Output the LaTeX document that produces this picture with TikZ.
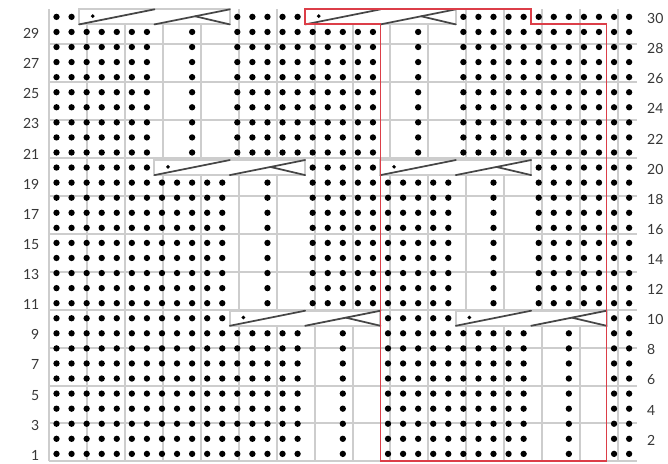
\documentclass[tikz,border=0pt]{standalone}
\usepackage{fontspec}
\newfontfamily\chartfont{Lato}
\usepackage{tikz}
\usetikzlibrary{calc,positioning}
\definecolor{repeatred}{RGB}{220,62,72}
\definecolor{gridgray}{RGB}{205,205,205}
\definecolor{cableink}{RGB}{70,70,70}
\definecolor{labelink}{RGB}{55,55,55}

\begin{document}
\begin{tikzpicture}[x=11.3pt,y=11.3pt]

% --- STYLES ---
\tikzset{
  gridline/.style={draw=gridgray, line width=1.5pt},
  purldot/.style={fill=black},
  cableline/.style={cableink, line width=1.3pt, line cap=round},
  repeatbox/.style={draw=repeatred, line width=1.4pt, line join=miter},
  rowlabel/.style={font=\chartfont\fontsize{10.5}{12}\selectfont, text=labelink, inner sep=0pt},
}

% --- PURL DOTS MACRO: row, first column, last column ---
\newcommand{\purls}[3]{
  \foreach \c in {#2,...,#3}
    \fill[purldot] (\c-0.5,#1-0.5) circle (0.21);
}

% --- CABLE CROSS MACRO: first column, row (spans 10 columns) ---
\newcommand{\cablecross}[2]{
  \fill[white] (#1-1,#2-1) rectangle (#1+9,#2);
  \draw[gridline] (#1-1,#2-1) rectangle (#1+9,#2);
  \draw[cableline] (#1-1,#2-1) -- (#1+4,#2);
  \draw[cableline] (#1+4,#2-1) -- (#1+9,#2);
  \draw[cableline] (#1+6.7,#2-0.46) -- (#1+9,#2-1);
  \fill[purldot] (#1-0.1,#2-0.45) circle (0.13);
}

\useasboundingbox (-3.25,-0.17) rectangle (41.08,30.62);

% ================= GRID =================
\draw[gridline] (0,0) grid (39,30);

% ================= ROWS 1-9 =================
\foreach \r in {1,...,9}{
  \purls{\r}{1}{17}
  \purls{\r}{20}{20}
  \purls{\r}{23}{32}
  \purls{\r}{35}{35}
  \purls{\r}{38}{39}
}

% ================= ROW 10 =================
\purls{10}{1}{12}
\cablecross{13}{10}
\purls{10}{23}{27}
\cablecross{28}{10}
\purls{10}{38}{39}

% ================= ROWS 11-19 =================
\foreach \r in {11,...,19}{
  \purls{\r}{1}{12}
  \purls{\r}{15}{15}
  \purls{\r}{18}{27}
  \purls{\r}{30}{30}
  \purls{\r}{33}{39}
}

% ================= ROW 20 =================
\purls{20}{1}{7}
\cablecross{8}{20}
\purls{20}{18}{22}
\cablecross{23}{20}
\purls{20}{33}{39}

% ================= ROWS 21-29 =================
\foreach \r in {21,...,29}{
  \purls{\r}{1}{7}
  \purls{\r}{10}{10}
  \purls{\r}{13}{22}
  \purls{\r}{25}{25}
  \purls{\r}{28}{39}
}

% ================= ROW 30 =================
\purls{30}{1}{2}
\cablecross{3}{30}
\purls{30}{13}{17}
\cablecross{18}{30}
\purls{30}{28}{39}

% ================= PATTERN REPEAT =================
\draw[repeatbox] (17,30) -- (32,30) -- (32,29) -- (37,29) -- (37,0)
  -- (22,0) -- (22,29) -- (17,29) -- cycle;

% ================= ROW NUMBERS =================
\foreach \r in {1,3,...,29}
  \node[rowlabel, anchor=east] (odd\r) at (-0.62,\r-0.6) {\r};
\foreach \r in {2,4,...,30}
  \node[rowlabel, anchor=west] (even\r) at (39.68,\r-0.6) {\r};

\end{tikzpicture}
\end{document}
